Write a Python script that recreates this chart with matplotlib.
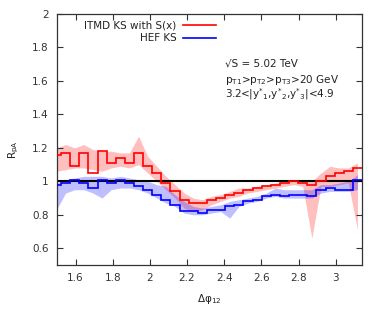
import numpy as np
import matplotlib
matplotlib.use("Agg")
import matplotlib.pyplot as plt

plt.rcParams['font.family'] = ['DejaVu Sans']
plt.rcParams['mathtext.default'] = 'regular'
plt.rcParams['font.size'] = 7.5

# bin edges in delta-phi (bins of width pi/64)
edges = [1.4726, 1.5217, 1.5708, 1.6199, 1.6690, 1.7181, 1.7671, 1.8162, 1.8653,
         1.9144, 1.9635, 2.0126, 2.0617, 2.1108, 2.1598, 2.2089, 2.2580, 2.3071,
         2.3562, 2.4053, 2.4544, 2.5035, 2.5525, 2.6016, 2.6507, 2.6998, 2.7489,
         2.7980, 2.8471, 2.8962, 2.9452, 2.9943, 3.0434, 3.0925, 3.1416]

itmd = [1.16, 1.17, 1.09, 1.17, 1.05, 1.18, 1.11, 1.14, 1.11, 1.17, 1.09, 1.05,
        0.99, 0.94, 0.89, 0.87, 0.87, 0.89, 0.90, 0.92, 0.93, 0.95, 0.96, 0.97,
        0.98, 0.99, 1.00, 0.99, 0.98, 1.00, 1.03, 1.05, 1.06, 1.08]
itmd_hi = [1.20, 1.22, 1.20, 1.22, 1.19, 1.18, 1.18, 1.17, 1.17, 1.27, 1.15, 1.09,
           1.03, 0.98, 0.93, 0.90, 0.89, 0.91, 0.92, 0.94, 0.96, 0.96, 0.97, 0.98,
           0.99, 1.00, 1.01, 1.00, 1.00, 1.05, 1.09, 1.08, 1.08, 1.11]
itmd_lo = [1.06, 1.07, 1.08, 1.08, 1.07, 1.06, 1.08, 1.09, 1.08, 1.10, 1.05, 1.00,
           0.95, 0.90, 0.84, 0.82, 0.83, 0.86, 0.88, 0.90, 0.91, 0.93, 0.94, 0.95,
           0.96, 0.97, 0.98, 0.97, 0.66, 0.97, 0.97, 0.98, 0.99, 0.71]

hef = [0.98, 0.99, 1.01, 0.99, 0.96, 1.01, 0.99, 1.01, 0.99, 0.97, 0.95, 0.92,
       0.89, 0.86, 0.82, 0.82, 0.81, 0.83, 0.83, 0.85, 0.86, 0.88, 0.89, 0.91,
       0.92, 0.915, 0.92, 0.92, 0.91, 0.95, 0.96, 0.95, 0.95, 1.01]
hef_hi = [0.99, 1.01, 1.02, 1.03, 1.03, 1.03, 1.02, 1.03, 1.02, 1.01, 1.00, 0.98,
          0.97, 0.92, 0.88, 0.85, 0.84, 0.85, 0.86, 0.88, 0.89, 0.90, 0.91, 0.93,
          0.96, 0.95, 0.95, 0.95, 0.95, 0.98, 0.98, 0.99, 1.00, 1.04]
hef_lo = [0.83, 0.93, 0.95, 0.95, 0.93, 0.90, 0.95, 0.96, 0.96, 0.95, 0.93, 0.90,
          0.87, 0.85, 0.81, 0.80, 0.80, 0.81, 0.82, 0.78, 0.85, 0.87, 0.88, 0.90,
          0.91, 0.90, 0.90, 0.90, 0.90, 0.93, 0.94, 0.94, 0.94, 0.95]

xticks = [1.6, 1.8, 2.0, 2.2, 2.4, 2.6, 2.8, 3.0]
xticklabels = ['1.6', '1.8', '2', '2.2', '2.4', '2.6', '2.8', '3']
yticks = [0.6, 0.8, 1.0, 1.2, 1.4, 1.6, 1.8, 2.0]
yticklabels = ['0.6', '0.8', '1', '1.2', '1.4', '1.6', '1.8', '2']

e = np.array(edges)
centers = (e[:-1] + e[1:]) / 2

fig = plt.figure(figsize=(3.82, 3.18), dpi=100)
ax = fig.add_axes([57/382, 53/318, 305/382, 251/318])

ax.fill_between(centers, itmd_lo, itmd_hi, color='#ff0000', alpha=0.25, lw=0, zorder=1)
ax.fill_between(centers, hef_lo, hef_hi, color='#0000ff', alpha=0.25, lw=0, zorder=1)
ax.axhline(1.0, color='black', lw=1.5, zorder=2)
ax.stairs(itmd, edges, baseline=None, color='#ff0000', lw=1.2, zorder=3)
ax.stairs(hef, edges, baseline=None, color='#0000ff', lw=1.2, zorder=3)

ax.set_xlim(1.5, np.pi)
ax.set_ylim(0.5, 2.0)
ax.set_xticks(xticks)
ax.set_xticklabels(xticklabels)
ax.set_yticks(yticks)
ax.set_yticklabels(yticklabels)
ax.tick_params(direction='in', length=4, width=0.8, top=True, right=True,
               labelsize=7.5, colors='#333333', pad=6)
for s in ax.spines.values():
    s.set_linewidth(0.9)
    s.set_color('#333333')

ax.set_xlabel(r'Δφ$_{12}$', fontsize=7.5, color='#222222')
ax.xaxis.set_label_coords(0.5, -0.108)
ax.set_ylabel(r'R$_{pA}$', fontsize=7.5, color='#222222')
ax.yaxis.set_label_coords(-0.118, 0.458)

# legend
ax.text(0.392, 0.956, 'ITMD KS with S(x)', transform=ax.transAxes, ha='right',
        va='center', fontsize=7.5, color='#222222')
ax.plot([0.413, 0.521], [0.956, 0.956], transform=ax.transAxes, color='#ff0000', lw=1.2)
ax.text(0.392, 0.903, 'HEF KS', transform=ax.transAxes, ha='right',
        va='center', fontsize=7.5, color='#222222')
ax.plot([0.413, 0.521], [0.903, 0.903], transform=ax.transAxes, color='#0000ff', lw=1.2)

ax.text(0.551, 0.804, '√S = 5.02 TeV', transform=ax.transAxes, ha='left',
        va='center', fontsize=7.5, color='#222222')
ax.text(0.551, 0.737, r'p$_{T1}$>p$_{T2}$>p$_{T3}$>20 GeV', transform=ax.transAxes,
        ha='left', va='center', fontsize=7.5, color='#222222')
ax.text(0.551, 0.681, r'3.2<|y$^{*}$$_{1}$,y$^{*}$$_{2}$,y$^{*}$$_{3}$|<4.9',
        transform=ax.transAxes, ha='left', va='center', fontsize=7.5, color='#222222')

fig.savefig('out.png', dpi=100)
